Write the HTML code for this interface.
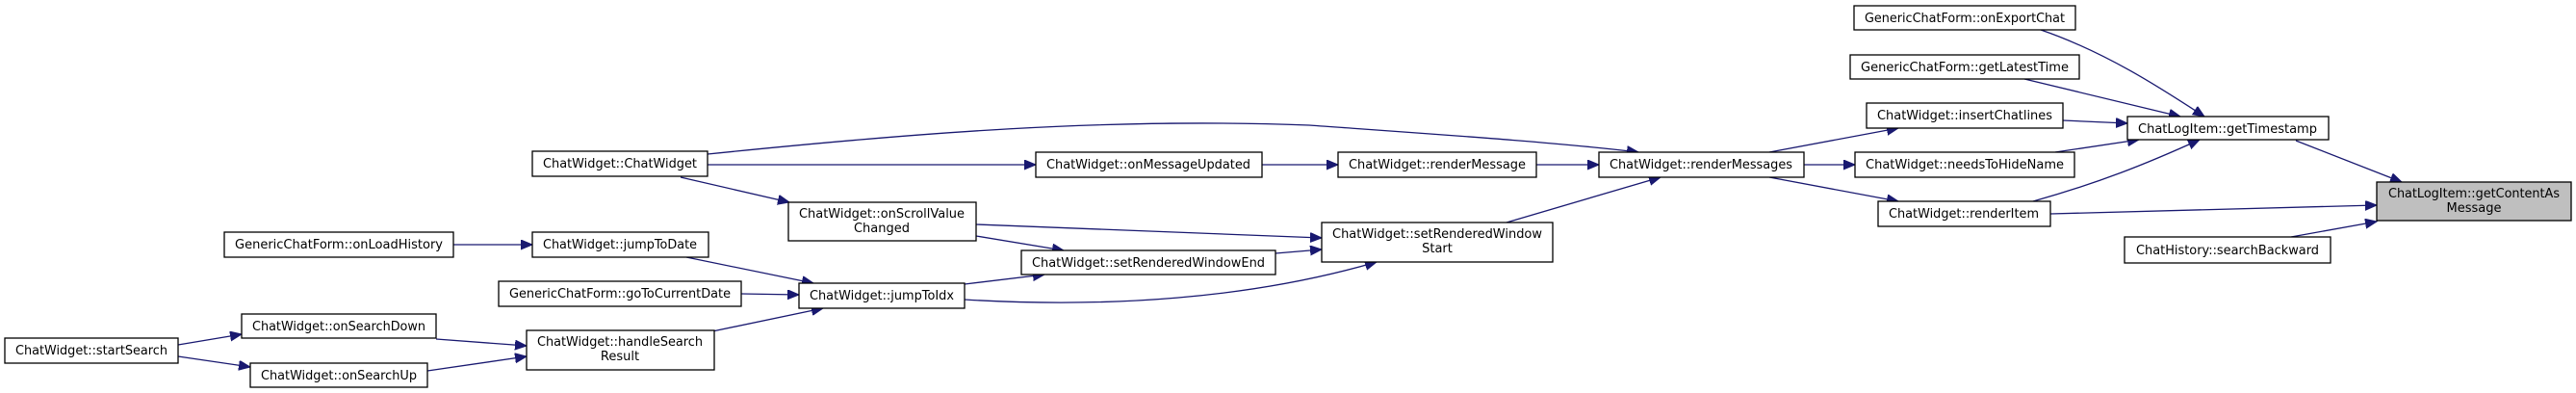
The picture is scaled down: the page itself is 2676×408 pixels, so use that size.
<!DOCTYPE html>
<html><head><meta charset="utf-8"><style>
html,body{margin:0;padding:0;background:#fff;}
svg{display:block;}
text{font-family:"DejaVu Sans","Liberation Sans",sans-serif;font-size:13px;fill:#000;}
.b{fill:#fff;stroke:#000;stroke-width:1.3;}
.e{fill:none;stroke:#191970;stroke-width:1.3;}
</style></head><body>
<svg width="2676" height="408" viewBox="0 0 2676 408" xmlns="http://www.w3.org/2000/svg">
<defs>
<marker id="a" markerUnits="userSpaceOnUse" markerWidth="14" markerHeight="12" refX="12" refY="5" orient="auto">
<path d="M0,0 L12,5 L0,10 Z" fill="#191970" stroke="#191970"/>
</marker>
</defs>
<g marker-end="url(#a)">
<path class="e" d="M2385,146 L2495,189"/>
<path class="e" d="M2130,222 L2469,213"/>
<path class="e" d="M2380,246 L2469,230"/>
<path class="e" d="M2120,31 C2190,55 2250,95 2290,121"/>
<path class="e" d="M2103,82 L2265,121"/>
<path class="e" d="M2143,125 L2210,128"/>
<path class="e" d="M2135,158 L2222,145"/>
<path class="e" d="M2112,209 C2180,190 2230,170 2285,145"/>
<path class="e" d="M1838,158 L1972,133"/>
<path class="e" d="M1874,171 L1927,171"/>
<path class="e" d="M1838,184 L1972,209"/>
<path class="e" d="M1596,171 L1661,171"/>
<path class="e" d="M1311,171 L1390,171"/>
<path class="e" d="M735,171 L1076,171"/>
<path class="e" d="M735,160 C950,138 1150,122 1360,130 C1500,140 1620,148 1702,158"/>
<path class="e" d="M707,184 L820,210"/>
<path class="e" d="M1565,231 L1725,184"/>
<path class="e" d="M1014,233 L1373,247"/>
<path class="e" d="M1014,245 L1105,260"/>
<path class="e" d="M1325,263 L1373,259"/>
<path class="e" d="M1002,295 L1085,285"/>
<path class="e" d="M1002,311 C1150,320 1300,310 1430,272"/>
<path class="e" d="M471,254 L553,254"/>
<path class="e" d="M713,267 L845,294"/>
<path class="e" d="M770,305 L830,306"/>
<path class="e" d="M740,344 L855,320"/>
<path class="e" d="M453,352 L547,359"/>
<path class="e" d="M444,385 L547,370"/>
<path class="e" d="M185,358 L251,347"/>
<path class="e" d="M185,370 L260,381"/>
</g>
<g>
<rect class="b" x="1926" y="6" width="230" height="25"/><text x="2041" y="23" text-anchor="middle" textLength="208" lengthAdjust="spacingAndGlyphs">GenericChatForm::onExportChat</text>
<rect class="b" x="1922" y="57" width="238" height="25"/><text x="2041" y="74" text-anchor="middle" textLength="216" lengthAdjust="spacingAndGlyphs">GenericChatForm::getLatestTime</text>
<rect class="b" x="1939" y="107" width="204" height="26"/><text x="2041" y="124" text-anchor="middle" textLength="182" lengthAdjust="spacingAndGlyphs">ChatWidget::insertChatlines</text>
<rect class="b" x="2210" y="121" width="209" height="24"/><text x="2314" y="138" text-anchor="middle" textLength="186" lengthAdjust="spacingAndGlyphs">ChatLogItem::getTimestamp</text>
<rect class="b" x="1927" y="158" width="228" height="26"/><text x="2041" y="175" text-anchor="middle" textLength="206" lengthAdjust="spacingAndGlyphs">ChatWidget::needsToHideName</text>
<rect class="b" x="1951" y="209" width="179" height="26"/><text x="2040" y="226" text-anchor="middle" textLength="156" lengthAdjust="spacingAndGlyphs">ChatWidget::renderItem</text>
<rect x="2469" y="189" width="202" height="40" fill="#bfbfbf" stroke="#000" stroke-width="1.3"/><text x="2570" y="205" text-anchor="middle" textLength="178" lengthAdjust="spacingAndGlyphs">ChatLogItem::getContentAs</text><text x="2570" y="220" text-anchor="middle">Message</text>
<rect class="b" x="2207" y="246" width="214" height="27"/><text x="2314" y="264" text-anchor="middle" textLength="190" lengthAdjust="spacingAndGlyphs">ChatHistory::searchBackward</text>
<rect class="b" x="1661" y="158" width="213" height="26"/><text x="1767" y="175" text-anchor="middle" textLength="190" lengthAdjust="spacingAndGlyphs">ChatWidget::renderMessages</text>
<rect class="b" x="1390" y="158" width="206" height="26"/><text x="1493" y="175" text-anchor="middle" textLength="184" lengthAdjust="spacingAndGlyphs">ChatWidget::renderMessage</text>
<rect class="b" x="1076" y="158" width="235" height="26"/><text x="1193" y="175" text-anchor="middle" textLength="212" lengthAdjust="spacingAndGlyphs">ChatWidget::onMessageUpdated</text>
<rect class="b" x="553" y="157" width="182" height="26"/><text x="644" y="174" text-anchor="middle" textLength="160" lengthAdjust="spacingAndGlyphs">ChatWidget::ChatWidget</text>
<rect class="b" x="819" y="210" width="195" height="40"/><text x="916" y="226" text-anchor="middle" textLength="172" lengthAdjust="spacingAndGlyphs">ChatWidget::onScrollValue</text><text x="916" y="241" text-anchor="middle">Changed</text>
<rect class="b" x="1373" y="231" width="240" height="41"/><text x="1493" y="247" text-anchor="middle" textLength="218" lengthAdjust="spacingAndGlyphs">ChatWidget::setRenderedWindow</text><text x="1493" y="262" text-anchor="middle">Start</text>
<rect class="b" x="1061" y="260" width="264" height="25"/><text x="1193" y="277" text-anchor="middle" textLength="242" lengthAdjust="spacingAndGlyphs">ChatWidget::setRenderedWindowEnd</text>
<rect class="b" x="553" y="241" width="183" height="26"/><text x="644" y="258" text-anchor="middle" textLength="160" lengthAdjust="spacingAndGlyphs">ChatWidget::jumpToDate</text>
<rect class="b" x="233" y="241" width="238" height="26"/><text x="352" y="258" text-anchor="middle" textLength="216" lengthAdjust="spacingAndGlyphs">GenericChatForm::onLoadHistory</text>
<rect class="b" x="518" y="292" width="252" height="26"/><text x="644" y="309" text-anchor="middle" textLength="230" lengthAdjust="spacingAndGlyphs">GenericChatForm::goToCurrentDate</text>
<rect class="b" x="830" y="294" width="172" height="26"/><text x="916" y="311" text-anchor="middle" textLength="150" lengthAdjust="spacingAndGlyphs">ChatWidget::jumpToIdx</text>
<rect class="b" x="547" y="343" width="195" height="41"/><text x="644" y="359" text-anchor="middle" textLength="172" lengthAdjust="spacingAndGlyphs">ChatWidget::handleSearch</text><text x="644" y="374" text-anchor="middle">Result</text>
<rect class="b" x="251" y="326" width="202" height="25"/><text x="352" y="343" text-anchor="middle" textLength="180" lengthAdjust="spacingAndGlyphs">ChatWidget::onSearchDown</text>
<rect class="b" x="260" y="377" width="184" height="25"/><text x="352" y="394" text-anchor="middle" textLength="162" lengthAdjust="spacingAndGlyphs">ChatWidget::onSearchUp</text>
<rect class="b" x="5" y="351" width="180" height="26"/><text x="95" y="368" text-anchor="middle" textLength="158" lengthAdjust="spacingAndGlyphs">ChatWidget::startSearch</text>
</g>
</svg>
</body></html>
